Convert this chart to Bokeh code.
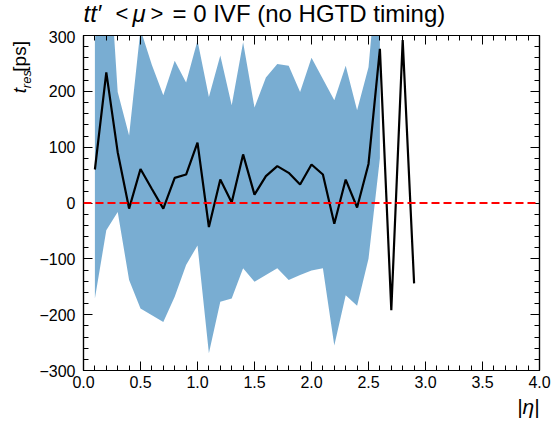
from bokeh.plotting import figure
from bokeh.layouts import column, row
from bokeh.models import Range1d, LinearAxis, FixedTicker, Label, Span, NumeralTickFormatter
from bokeh.embed import file_html
from bokeh.resources import INLINE

# ---------------- data ----------------
eta = [0.1, 0.2, 0.3, 0.4, 0.5, 0.6, 0.7, 0.8, 0.9, 1.0,
       1.1, 1.2, 1.3, 1.4, 1.5, 1.6, 1.7, 1.8, 1.9, 2.0,
       2.1, 2.2, 2.3, 2.4, 2.5, 2.6, 2.7, 2.8, 2.9]
t_mean = [60, 234, 91, -10, 61, 25, -10, 45, 51, 108,
          -43, 42, 1, 87, 15, 48, 66, 54, 33, 69,
          51, -37, 42, -8, 70, 276, -192, 292, -144]

eta_band = [0.1, 0.2, 0.3, 0.4, 0.5, 0.6, 0.7, 0.8, 0.9, 1.0,
            1.1, 1.2, 1.3, 1.4, 1.5, 1.6, 1.7, 1.8, 1.9, 2.0,
            2.1, 2.2, 2.3, 2.4, 2.5, 2.6]
band_upper = [291, 517, 199, 121, 311, 247, 193, 255, 216, 291,
              190, 264, 175, 288, 171, 225, 249, 246, 199, 260,
              222, 184, 246, 166, 243, 470]
band_lower = [-171, -49, -16, -138, -189, -201, -213, -168, -111, -76,
              -269, -177, -171, -117, -141, -129, -117, -138, -129, -121,
              -117, -255, -165, -184, -100, 80]

x_ticks = [0.0, 0.5, 1.0, 1.5, 2.0, 2.5, 3.0, 3.5, 4.0]
x_minor = [i / 10 for i in range(0, 41)]
y_ticks = [-300, -200, -100, 0, 100, 200, 300]
y_tick_labels = ["\u2212300", "\u2212200", "\u2212100", "0", "100", "200", "300"]
y_minor = list(range(-300, 301, 20))

title_parts = ["tt\u2032", "<", "\u03bc", ">", "= 0 IVF (no HGTD timing)"]
ylabel_parts = ["t", "res", "[ps]"]
xlabel_text = "|\u03b7|"

# ---------------- layout ----------------
W, H = 554, 423
TOP_H = 30          # title strip
BOT_H = 27          # x-label strip
LEFT_W = 36         # y-label strip
MID_H = H - TOP_H - BOT_H
FL, FR, FT, FB = 83, 539, 35, 370   # frame in page pixels
FONT = "Liberation Sans"
MID = 0.345         # baseline -> middle offset, in em


def strip(w, h, x0, x1, y0, y1):
    f = figure(width=w, height=h, output_backend="svg", toolbar_location=None,
               x_range=Range1d(x0, x1), y_range=Range1d(y1, y0),
               min_border=0, x_axis_location=None, y_axis_location=None)
    f.title.visible = False
    f.xgrid.visible = False
    f.ygrid.visible = False
    f.outline_line_color = None
    f.border_fill_color = "white"
    f.background_fill_color = "white"
    return f


def lab(f, text, px, py, size, style="normal", align="left", angle=0):
    f.add_layout(Label(x=px, y=py, text=text, text_font=FONT,
                       text_font_size=f"{size}px", text_font_style=style,
                       text_align=align, text_baseline="middle",
                       angle=angle, angle_units="deg", text_color="black"))


# title strip (page pixel coordinates)
tf = strip(W, TOP_H, 0, W, 0, TOP_H)
t_base = 21
for txt, px, st, sz in zip(title_parts, [83, 115, 132, 150, 172],
                           ["italic", "normal", "italic", "normal", "normal"],
                           [24, 22, 24, 22, 24]):
    lab(tf, txt, px, t_base - MID * sz, sz, st)

# y-label strip (rotated text, reads bottom-to-top)
lf = strip(LEFT_W, MID_H, 0, LEFT_W, TOP_H, TOP_H + MID_H)
y_size, sub_size = 19, 13
lab(lf, ylabel_parts[0], 26 - MID * y_size, 93, y_size, "italic", angle=90)
lab(lf, ylabel_parts[1], 30 - MID * sub_size, 87.5, sub_size, "italic", angle=90)
lab(lf, ylabel_parts[2], 26 - MID * y_size, 69.5, y_size, angle=90)

# x-label strip
bf = strip(W, BOT_H, 0, W, H - BOT_H, H)
x_size = 21
lab(bf, xlabel_text, FR, 413.5 - MID * x_size, x_size, "italic", align="right")

# main plot
p = figure(width=W - LEFT_W, height=MID_H, output_backend="svg", toolbar_location=None,
           x_range=Range1d(0, 4), y_range=Range1d(-300, 300),
           min_border_left=FL - LEFT_W, min_border_right=W - FR,
           min_border_top=FT - TOP_H, min_border_bottom=(TOP_H + MID_H) - FB,
           x_axis_location=None, y_axis_location=None)
p.title.visible = False
p.xgrid.visible = False
p.ygrid.visible = False
p.outline_line_color = "black"
p.outline_line_width = 1.2
p.background_fill_color = "white"
p.border_fill_color = "white"


def style_axis(ax, ticks, minor, show_labels):
    ax.ticker = FixedTicker(ticks=ticks, minor_ticks=minor)
    ax.axis_line_color = "black"
    ax.axis_line_width = 1.2
    ax.major_tick_in = 9
    ax.major_tick_out = 0
    ax.minor_tick_in = 5
    ax.minor_tick_out = 0
    ax.major_tick_line_color = "black"
    ax.minor_tick_line_color = "black"
    if show_labels:
        ax.major_label_text_font = FONT
        ax.major_label_text_font_size = "16px"
        ax.major_label_text_color = "black"
    else:
        ax.major_label_overrides = {t: "" for t in ticks}
        ax.major_label_text_font_size = "0px"
        ax.major_label_text_color = None
        ax.major_label_standoff = 0


xb = LinearAxis()
style_axis(xb, x_ticks, x_minor, True)
xb.formatter = NumeralTickFormatter(format="0.0")
xb.major_label_standoff = 5
p.add_layout(xb, "below")

yl = LinearAxis()
style_axis(yl, y_ticks, y_minor, True)
yl.major_label_overrides = dict(zip(y_ticks, y_tick_labels))
yl.major_label_standoff = 8
p.add_layout(yl, "left")

xt = LinearAxis()
style_axis(xt, x_ticks, x_minor, False)
p.add_layout(xt, "above")

yr = LinearAxis()
style_axis(yr, y_ticks, y_minor, False)
p.add_layout(yr, "right")

p.varea(x=eta_band, y1=band_lower, y2=band_upper, fill_color="#1f77b4", fill_alpha=0.6)
p.add_layout(Span(location=0, dimension="width", line_color="red",
                  line_dash="8 4", line_width=2))
p.line(eta, t_mean, line_color="black", line_width=2.2)

layout = column(tf, row(lf, p, spacing=0), bf, spacing=0)
open("out.html", "w").write(file_html(layout, INLINE))
